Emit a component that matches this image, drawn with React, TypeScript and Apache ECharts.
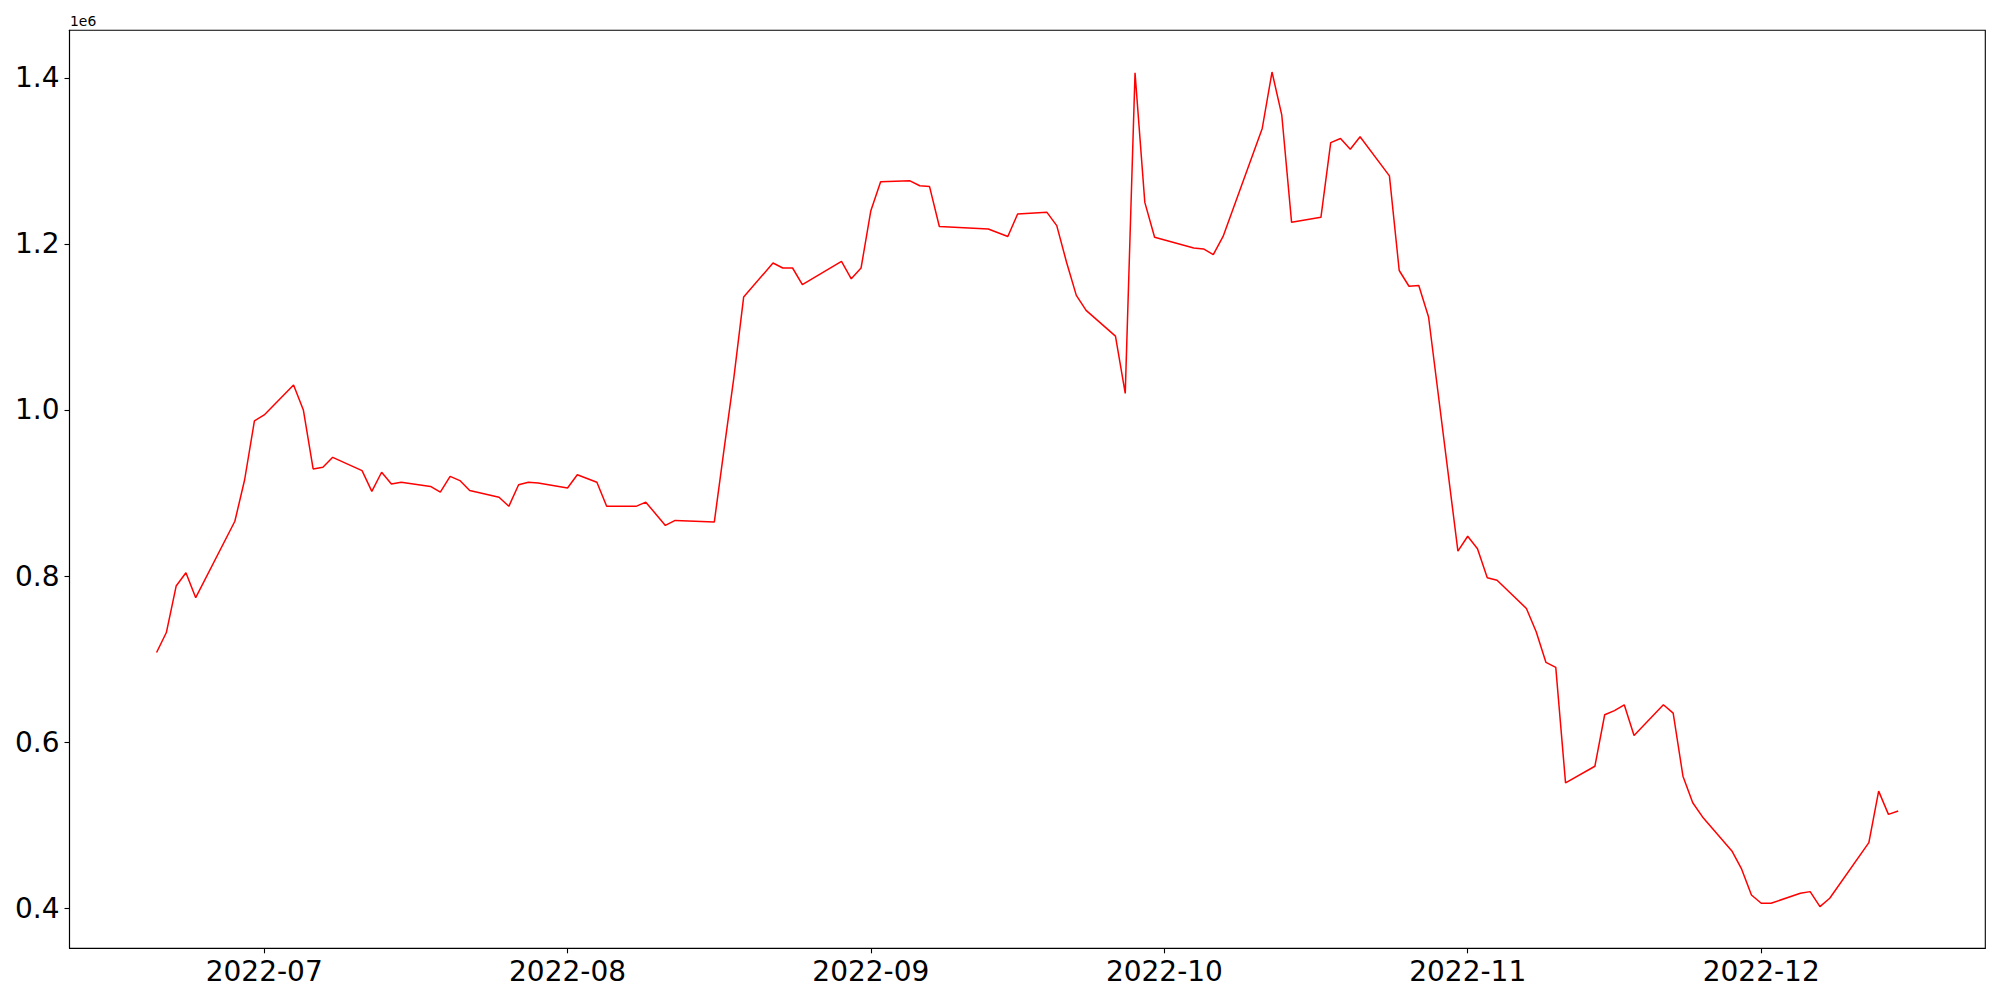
import React, { useEffect, useRef } from "react";
import * as echarts from "echarts";

const dates = [
  "2022-06-20", "2022-06-21", "2022-06-22", "2022-06-23", "2022-06-24", "2022-06-28", "2022-06-29", "2022-06-30",
  "2022-07-01", "2022-07-04", "2022-07-05", "2022-07-06", "2022-07-07", "2022-07-08", "2022-07-11", "2022-07-12",
  "2022-07-13", "2022-07-14", "2022-07-15", "2022-07-18", "2022-07-19", "2022-07-20", "2022-07-21", "2022-07-22",
  "2022-07-25", "2022-07-26", "2022-07-27", "2022-07-28", "2022-07-29", "2022-08-01", "2022-08-02", "2022-08-04",
  "2022-08-05", "2022-08-08", "2022-08-09", "2022-08-11", "2022-08-12", "2022-08-16", "2022-08-17", "2022-08-18",
  "2022-08-19", "2022-08-22", "2022-08-23", "2022-08-24", "2022-08-25", "2022-08-29", "2022-08-30", "2022-08-31",
  "2022-09-01", "2022-09-02", "2022-09-05", "2022-09-06", "2022-09-07", "2022-09-08", "2022-09-13", "2022-09-15",
  "2022-09-16", "2022-09-19", "2022-09-20", "2022-09-21", "2022-09-22", "2022-09-23", "2022-09-26", "2022-09-27",
  "2022-09-28", "2022-09-29", "2022-09-30", "2022-10-04", "2022-10-05", "2022-10-06", "2022-10-07", "2022-10-11",
  "2022-10-12", "2022-10-13", "2022-10-14", "2022-10-17", "2022-10-18", "2022-10-19", "2022-10-20", "2022-10-21",
  "2022-10-24", "2022-10-25", "2022-10-26", "2022-10-27", "2022-10-28", "2022-10-31", "2022-11-01", "2022-11-02",
  "2022-11-03", "2022-11-04", "2022-11-07", "2022-11-08", "2022-11-09", "2022-11-10", "2022-11-11", "2022-11-14",
  "2022-11-15", "2022-11-16", "2022-11-17", "2022-11-18", "2022-11-21", "2022-11-22", "2022-11-23", "2022-11-24",
  "2022-11-25", "2022-11-28", "2022-11-29", "2022-11-30", "2022-12-01", "2022-12-02", "2022-12-05", "2022-12-06",
  "2022-12-07", "2022-12-08", "2022-12-12", "2022-12-13", "2022-12-14", "2022-12-15",
];

const values = [
  708000, 732000, 788000, 804000, 774000, 866000, 916000, 987000,
  994000, 1030000, 1000000, 929000, 931000, 943000, 927000, 902000,
  925000, 911000, 913000, 908000, 901000, 920000, 915000, 903000,
  895000, 884000, 910000, 913000, 912000, 906000, 922000, 913000,
  884000, 884000, 889000, 861000, 867000, 865000, 953000, 1039000,
  1136000, 1177000, 1171000, 1171000, 1151000, 1179000, 1158000, 1171000,
  1240000, 1275000, 1276000, 1270000, 1269000, 1221000, 1218000, 1209000,
  1236000, 1238000, 1222000, 1178000, 1138000, 1120000, 1089000, 1020000,
  1406000, 1250000, 1208000, 1195000, 1194000, 1187000, 1209000, 1339000,
  1407000, 1355000, 1226000, 1232000, 1322000, 1327000, 1314000, 1329000,
  1282000, 1168000, 1149000, 1150000, 1112000, 830000, 848000, 833000,
  798000, 795000, 761000, 733000, 696000, 690000, 551000, 571000,
  633000, 638000, 645000, 608000, 645000, 635000, 559000, 527000,
  510000, 469000, 447000, 416000, 406000, 406000, 418000, 420000,
  402000, 412000, 479000, 541000, 513000, 517000,
];

const xTickDates = ["2022-07-01", "2022-08-01", "2022-09-01", "2022-10-01", "2022-11-01", "2022-12-01"];
const yTickValues = [400000, 600000, 800000, 1000000, 1200000, 1400000];
const offsetText = "1e6";

function toTs(s: string): number {
  const [y, m, d] = s.split("-").map(Number);
  return Date.UTC(y, m - 1, d);
}

export default function App() {
  const ref = useRef<HTMLDivElement>(null);

  useEffect(() => {
    if (!ref.current) return;
    const chart = echarts.init(ref.current, null, { renderer: "svg" });
    const data = dates.map((d, i) => [toTs(d), values[i]]);
    const t0 = toTs(dates[0]);
    const t1 = toTs(dates[dates.length - 1]);
    const xPad = (t1 - t0) * 0.05;
    const vmin = Math.min(...values);
    const vmax = Math.max(...values);
    const yPad = (vmax - vmin) * 0.05;
    const xTicks = xTickDates.map(toTs);
    const font = "DejaVu Sans";

    chart.setOption({
      animation: false,
      backgroundColor: "#ffffff",
      grid: {
        left: 69.5,
        right: 14.7,
        top: 30.3,
        bottom: 51.7,
        show: true,
        borderColor: "#000",
        borderWidth: 1.1,
        backgroundColor: "transparent",
      },
      xAxis: {
        type: "value",
        min: t0 - xPad,
        max: t1 + xPad,
        scale: true,
        axisLine: { show: true, lineStyle: { color: "#000", width: 1.1 } },
        axisTick: {
          show: true,
          customValues: xTicks,
          length: 5,
          inside: false,
          lineStyle: { color: "#000", width: 1.1 },
        },
        axisLabel: {
          customValues: xTicks,
          fontSize: 28,
          fontFamily: font,
          color: "#000",
          margin: 9,
          formatter: (v: number) => {
            const d = new Date(v);
            return `${d.getUTCFullYear()}-${String(d.getUTCMonth() + 1).padStart(2, "0")}`;
          },
        },
        splitLine: { show: false },
      },
      yAxis: {
        type: "value",
        min: vmin - yPad,
        max: vmax + yPad,
        scale: true,
        axisLine: { show: true, lineStyle: { color: "#000", width: 1.1 } },
        axisTick: {
          show: true,
          customValues: yTickValues,
          length: 5,
          inside: false,
          lineStyle: { color: "#000", width: 1.1 },
        },
        axisLabel: {
          customValues: yTickValues,
          fontSize: 28,
          fontFamily: font,
          color: "#000",
          margin: 10,
          formatter: (v: number) => (v / 1e6).toFixed(1),
        },
        splitLine: { show: false },
      },
      graphic: [
        {
          type: "text",
          left: 70,
          top: 14,
          style: { text: offsetText, fontSize: 13.9, fontFamily: font, fill: "#000" },
        },
      ],
      series: [
        {
          type: "line",
          data,
          showSymbol: false,
          symbol: "none",
          lineStyle: { color: "#ff0000", width: 1.5 },
          itemStyle: { color: "#ff0000" },
        },
      ],
    });

    return () => chart.dispose();
  }, []);

  return (
    <div
      ref={ref}
      style={{ position: "fixed", left: 0, top: 0, width: 2000, height: 1000, background: "#fff" }}
    />
  );
}
